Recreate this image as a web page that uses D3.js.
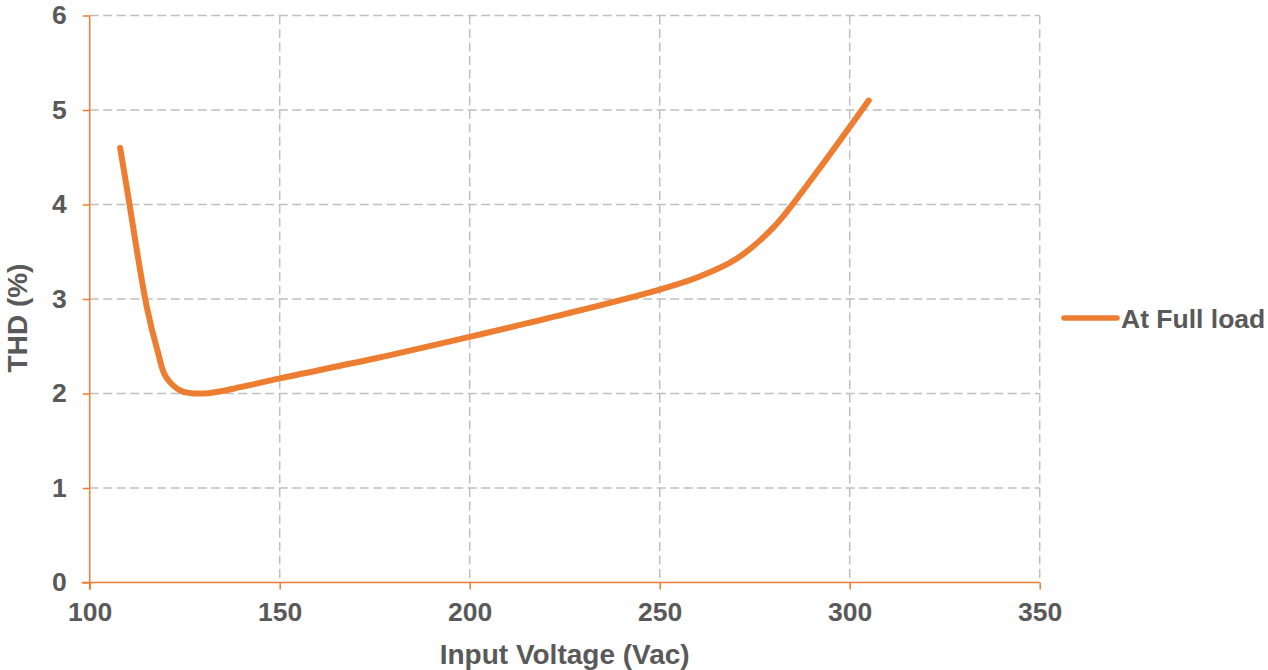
<!DOCTYPE html>
<html>
<head>
<meta charset="utf-8">
<script src="https://cdn.jsdelivr.net/npm/d3@7"></script>
<style>
  html, body { margin: 0; padding: 0; background: #ffffff; }
  svg { display: block; }
  text { font-family: "Liberation Sans", Arial, sans-serif; font-weight: bold; fill: #595959; }
</style>
</head>
<body>
<svg id="chart" width="1268" height="670"></svg>
<script>
// ---- data ----
const voltage = [108, 110, 115, 118, 120, 124, 130, 140, 150, 175, 200, 225, 250, 260, 270, 280, 290, 305];
const thd     = [4.6, 4.12, 2.92, 2.43, 2.18, 2.03, 2.0, 2.07, 2.16, 2.37, 2.6, 2.84, 3.1, 3.23, 3.42, 3.76, 4.27, 5.1];
const xTicks = [100, 150, 200, 250, 300, 350];
const yTicks = [0, 1, 2, 3, 4, 5, 6];
const seriesName = "At Full load";
const xTitle = "Input Voltage (Vac)";
const yTitle = "THD (%)";

const orange = "#ED7D31";
const grid = "#BFBFBF";

const svg = d3.select("#chart");
const m = { left: 89.7, right: 1039.7, top: 15.5, bottom: 582.5 };

const x = d3.scaleLinear().domain([100, 350]).range([m.left, m.right]);
const y = d3.scaleLinear().domain([0, 6]).range([m.bottom, m.top]);

// gridlines
svg.append("g").selectAll("line.h")
  .data(yTicks.filter(d => d > 0)).join("line")
  .attr("x1", m.left).attr("x2", m.right)
  .attr("y1", d => y(d)).attr("y2", d => y(d))
  .attr("stroke", grid).attr("stroke-width", 1.5).attr("stroke-dasharray", "9,4.5");
svg.append("g").selectAll("line.v")
  .data(xTicks.filter(d => d > 100)).join("line")
  .attr("x1", d => x(d)).attr("x2", d => x(d))
  .attr("y1", m.top).attr("y2", m.bottom)
  .attr("stroke", grid).attr("stroke-width", 1.5).attr("stroke-dasharray", "9,4.5");

// axes
const xAxis = d3.axisBottom(x).tickValues(xTicks).tickSize(7).tickPadding(13).tickFormat(d3.format("d"));
const yAxis = d3.axisLeft(y).tickValues(yTicks).tickSize(7).tickPadding(16).tickFormat(d3.format("d"));

const gx = svg.append("g").attr("transform", `translate(0,${m.bottom})`).call(xAxis);
const gy = svg.append("g").attr("transform", `translate(${m.left},0)`).call(yAxis);
[gx, gy].forEach(g => {
  g.select(".domain").attr("stroke", orange).attr("stroke-width", 1.5);
  g.selectAll(".tick line").attr("stroke", orange).attr("stroke-width", 1.5);
  g.selectAll(".tick text").style("font-size", "26.5px").attr("fill", "#595959")
    .style("font-family", '"Liberation Sans", Arial, sans-serif').style("font-weight", "bold");
});
// extend axes to origin corner
gx.select(".domain").attr("d", `M${m.left - 8},0H${m.right}`);
gy.select(".domain").attr("d", `M0,${m.top}V${m.bottom + 7}`);

// series
const line = d3.line().x((d, i) => x(voltage[i])).y(d => y(d)).curve(d3.curveCatmullRom.alpha(0.5));
svg.append("path").datum(thd)
  .attr("d", line).attr("fill", "none")
  .attr("stroke", orange).attr("stroke-width", 6).attr("stroke-linecap", "round").attr("stroke-linejoin", "round");

// titles
svg.append("text").attr("x", (m.left + m.right) / 2).attr("y", 664)
  .attr("text-anchor", "middle").style("font-size", "28px").text(xTitle);
svg.append("text").attr("transform", `translate(27,318) rotate(-90)`)
  .attr("text-anchor", "middle").style("font-size", "28px").text(yTitle);

// legend
svg.append("line").attr("x1", 1064).attr("x2", 1117).attr("y1", 318).attr("y2", 318)
  .attr("stroke", orange).attr("stroke-width", 5.5).attr("stroke-linecap", "round");
svg.append("text").attr("x", 1121).attr("y", 327.5).style("font-size", "26.5px").text(seriesName);
</script>
</body>
</html>
